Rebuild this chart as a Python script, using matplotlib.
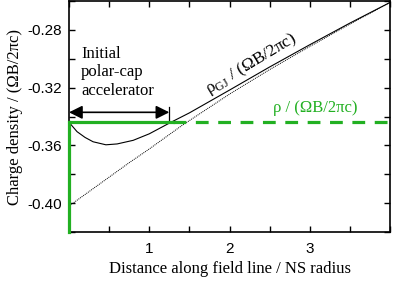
import matplotlib
matplotlib.use("Agg")
import matplotlib.pyplot as plt
from matplotlib.ticker import MultipleLocator, FixedLocator

plt.rcParams['font.family'] = ['Liberation Serif', 'DejaVu Serif']
plt.rcParams['mathtext.fontset'] = 'custom'
plt.rcParams['mathtext.rm'] = 'Liberation Serif'

# rho / (OmegaB/2pi c) along the field line
x_rho = [0.0, 0.1, 0.2, 0.3, 0.46, 0.6, 0.8, 1.0, 1.27, 1.5, 2.0, 2.5, 3.0, 3.5, 4.0]
rho = [-0.344, -0.3505, -0.3545, -0.3575, -0.3596, -0.359, -0.3565, -0.352, -0.344,
       -0.3375, -0.3217, -0.3057, -0.2903, -0.2753, -0.261]

# Goldreich-Julian density
x_gj = [0.0, 0.25, 0.5, 0.75, 1.0, 1.4, 2.0, 2.5, 3.0, 3.5, 4.0]
rho_gj = [-0.402, -0.392, -0.382, -0.372, -0.3625, -0.3465, -0.3245, -0.3075,
          -0.2915, -0.276, -0.261]

green_level = -0.3438
acc_end = 1.27
green = '#22b022'

fig = plt.figure(figsize=(3.98, 2.81), dpi=100)
ax = fig.add_axes([0.1734, 0.1744, 0.8065, 0.822])

ax.plot(x_rho, rho, color='black', lw=0.8)
ax.plot(x_gj, rho_gj, color='black', lw=0.7, ls=(0, (1, 1)))

# green step: vertical at 0, solid over accelerator, dashed after
ax.plot([0, 0], [-0.42, green_level], color=green, lw=2.3, clip_on=False, zorder=5)
ax.plot([0, acc_end + 0.03], [green_level, green_level], color=green, lw=2.3, zorder=5)
ax.plot([acc_end + 0.03, 4.0], [green_level, green_level], color=green, lw=2.3,
        ls=(0, (4, 3)), zorder=5)

# accelerator extent arrow
ax.annotate('', xy=(0.0, -0.3371), xytext=(acc_end - 0.02, -0.3371),
            arrowprops=dict(arrowstyle='<|-|>', color='black', lw=1.2,
                            mutation_scale=20, shrinkA=0, shrinkB=0))
ax.plot([acc_end - 0.02, acc_end - 0.02], [-0.3335, -0.3438], color='black', lw=0.9)

ax.text(0.15, -0.3095, 'Initial\npolar-cap\naccelerator', fontsize=12,
        ha='left', va='center', linespacing=1.2)
ax.text(2.27, -0.3035, 'ρ$_{\\rm GJ}$ / (ΩB/2πc)', fontsize=12.5, rotation=31,
        ha='center', va='center')
ax.text(3.07, -0.3338, 'ρ / (ΩB/2πc)', fontsize=12, color=green,
        ha='center', va='center')

ax.set_xlim(0, 4)
ax.set_ylim(-0.42, -0.26)
ax.xaxis.set_major_locator(FixedLocator([1, 2, 3]))
ax.xaxis.set_minor_locator(MultipleLocator(0.5))
ax.yaxis.set_major_locator(FixedLocator([-0.40, -0.36, -0.32, -0.28]))
ax.yaxis.set_minor_locator(MultipleLocator(0.02))
ax.set_yticklabels(['-0.40', '-0.36', '-0.32', '-0.28'])
ax.tick_params(which='both', direction='in', top=True, right=True,
               length=4, width=1)
ax.tick_params(axis='x', pad=7)
ax.tick_params(axis='y', pad=5)
for lab in ax.get_xticklabels() + ax.get_yticklabels():
    lab.set_family('Liberation Sans')
    lab.set_fontsize(11)

for s in ax.spines.values():
    s.set_linewidth(1.2)

ax.set_xlabel('Distance along field line / NS radius', fontsize=12, labelpad=4)
ax.set_ylabel('Charge density / (ΩB/2πc)', fontsize=12, labelpad=3)

fig.savefig('out.png', dpi=100)
